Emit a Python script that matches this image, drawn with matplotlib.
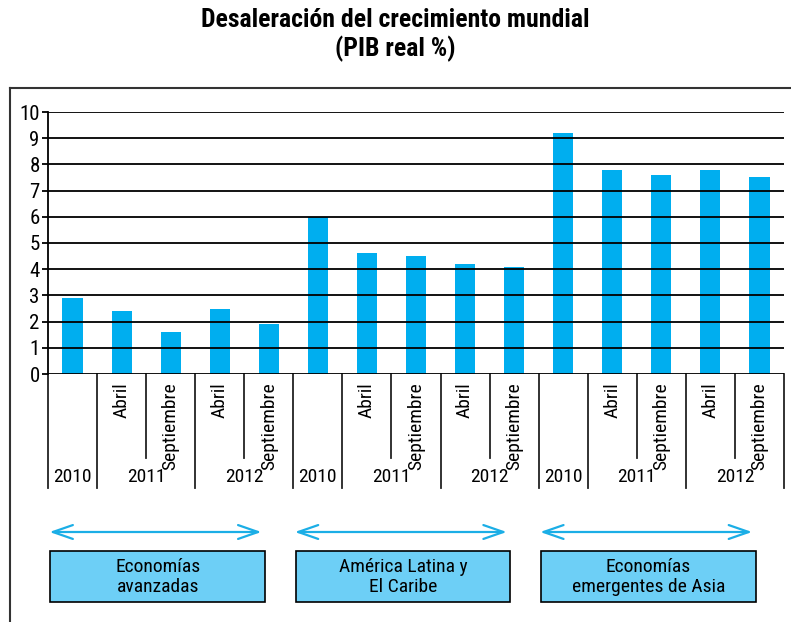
import matplotlib
matplotlib.use("Agg")
import matplotlib.pyplot as plt
from matplotlib.patches import Rectangle
from matplotlib.transforms import blended_transform_factory

plt.rcParams["font.family"] = ["Roboto Condensed", "DejaVu Sans"]

# data
groups = ["Economías\navanzadas", "América Latina y\nEl Caribe",
          "Economías\nemergentes de Asia"]
periods = ["", "Abril", "Septiembre", "Abril", "Septiembre"]
years = ["2010", "2011", "2012"]
pib_avanzadas = [2.9, 2.4, 1.6, 2.5, 1.9]
pib_latam = [6.0, 4.6, 4.5, 4.2, 4.1]
pib_asia = [9.2, 7.8, 7.6, 7.8, 7.5]

values = pib_avanzadas + pib_latam + pib_asia
n = len(values)

W, H = 791, 622
fig = plt.figure(figsize=(W / 100, H / 100), dpi=100)


def fy(px):
    # pixel row (from top) -> figure fraction
    return 1 - px / H


ax = fig.add_axes([48 / W, fy(374), (784 - 48) / W, (374 - 112) / H])

bar_col = "#00AEEF"
ax.bar(range(n), values, width=0.41, color=bar_col, zorder=1)

ax.set_xlim(-0.5, n - 0.5)
ax.set_ylim(0, 10)
ax.set_yticks(range(0, 11))
ax.set_yticklabels([str(v) for v in range(0, 11)], fontsize=15)
ax.yaxis.grid(True, color="black", lw=1.3, zorder=2)
ax.set_axisbelow(False)
ax.tick_params(axis="y", length=4, width=1.3, pad=2, color="black")
ax.tick_params(axis="x", length=0, labelbottom=False)
for s in ["top", "right", "bottom"]:
    ax.spines[s].set_visible(False)
ax.spines["left"].set_linewidth(1.3)

# category axis built as a small table under the bars
tr = blended_transform_factory(ax.transData, fig.transFigure)
line_col = "#222222"
for k in range(n + 1):
    short = k % 5 in (2, 4)
    y_end = 458 if short else 488
    ax.plot([k - 0.5, k - 0.5], [fy(374), fy(y_end)], transform=tr,
            color=line_col, lw=1.3, clip_on=False)

for i in range(n):
    lab = periods[i % 5]
    if lab:
        ax.text(i, fy(382), lab, transform=tr, rotation=90, ha="center",
                va="top", fontsize=14)

for g in range(len(groups)):
    base = g * 5
    year_x = [base, base + 1.5, base + 3.5]
    for yx, yr in zip(year_x, years):
        ax.text(yx, fy(477), yr, transform=tr, ha="center", va="center",
                fontsize=14)

    # double-headed arrow
    ax.annotate("", xy=(base + 3.85, fy(532)), xytext=(base - 0.47, fy(532)),
                xycoords=tr, textcoords=tr,
                arrowprops=dict(arrowstyle="<->,head_length=0.72,head_width=0.25",
                                mutation_scale=20, lw=1.6, color="#1BAEE6",
                                shrinkA=0, shrinkB=0),
                annotation_clip=False)

    # group box
    box = Rectangle((base - 0.45, fy(602)), 4.37, (602 - 551) / H,
                    transform=tr, facecolor="#6DCFF6", edgecolor="black",
                    lw=1.2, clip_on=False)
    ax.add_patch(box)
    ax.text(base - 0.45 + 4.37 / 2, fy(577), groups[g], transform=tr,
            ha="center", va="center", fontsize=14, linespacing=1.1)

# outer frame (top and left edges)
fig.add_artist(plt.Line2D([10 / W, 1], [fy(88), fy(88)], color="#333333", lw=1.5))
fig.add_artist(plt.Line2D([10 / W, 10 / W], [fy(88), 0], color="#333333", lw=1.5))

fig.text(0.5, fy(20), "Desaleración del crecimiento mundial", ha="center",
         va="center", fontsize=18.5, fontweight="bold")
fig.text(0.5, fy(49), "(PIB real %)", ha="center", va="center",
         fontsize=18.5, fontweight="bold")

fig.savefig("out.png", dpi=100)
